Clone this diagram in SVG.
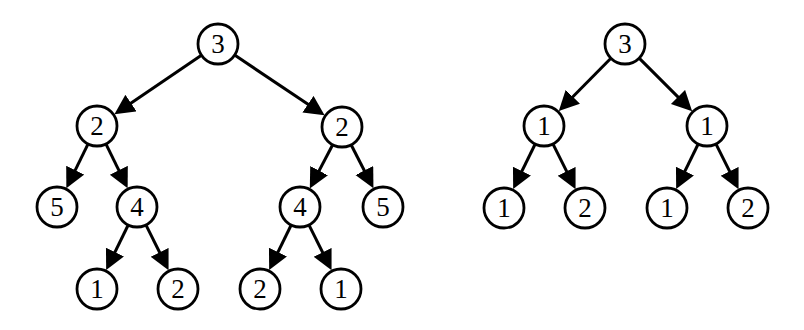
<svg xmlns="http://www.w3.org/2000/svg" width="804" height="330" viewBox="0 0 804 330">
<style>
.n circle{fill:#fff;stroke:#000;stroke-width:2.8}
.n text{font-family:"Liberation Serif","DejaVu Serif",serif;font-size:27px;text-anchor:middle;fill:#000}
#edges line{stroke:#000;stroke-width:3;marker-end:url(#ah)}
</style>
<defs>
<marker id="ah" markerUnits="userSpaceOnUse" markerWidth="22" markerHeight="22" refX="14" refY="10" orient="auto">
<path d="M0,0 L20,10 L0,20 z" fill="#000"/>
</marker>
</defs>
<rect width="804" height="330" fill="#fff"/>
<g id="edges">
<line x1="201.4" y1="55.2" x2="119.4" y2="110.9"/>
<line x1="234.6" y1="55.1" x2="319.6" y2="112.0"/>
<line x1="88.1" y1="143.9" x2="69.0" y2="182.8"/>
<line x1="105.9" y1="143.9" x2="125.0" y2="182.8"/>
<line x1="332.7" y1="144.7" x2="312.6" y2="183.1"/>
<line x1="351.1" y1="144.8" x2="370.7" y2="183.0"/>
<line x1="128.2" y1="225.0" x2="108.8" y2="264.7"/>
<line x1="145.9" y1="224.9" x2="165.9" y2="264.9"/>
<line x1="291.2" y1="225.0" x2="271.8" y2="264.7"/>
<line x1="308.9" y1="224.9" x2="328.9" y2="264.9"/>
<line x1="610.9" y1="58.2" x2="563.0" y2="106.8"/>
<line x1="639.1" y1="58.1" x2="687.9" y2="106.9"/>
<line x1="535.2" y1="144.0" x2="515.8" y2="183.7"/>
<line x1="552.9" y1="143.9" x2="572.9" y2="183.9"/>
<line x1="698.2" y1="144.0" x2="678.8" y2="183.7"/>
<line x1="715.9" y1="143.9" x2="735.9" y2="183.9"/>
</g>
<g id="L_root" class="n"><circle cx="218" cy="44" r="20"/><text x="218" y="53">3</text></g>
<g id="L_a" class="n"><circle cx="97" cy="126" r="20"/><text x="97" y="135">2</text></g>
<g id="L_b" class="n"><circle cx="342" cy="127" r="20"/><text x="342" y="136">2</text></g>
<g id="L_aa" class="n"><circle cx="57" cy="207" r="20"/><text x="57" y="216">5</text></g>
<g id="L_ab" class="n"><circle cx="137" cy="207" r="20"/><text x="137" y="216">4</text></g>
<g id="L_ba" class="n"><circle cx="300" cy="207" r="20"/><text x="300" y="216">4</text></g>
<g id="L_bb" class="n"><circle cx="383" cy="207" r="20"/><text x="383" y="216">5</text></g>
<g id="L_aba" class="n"><circle cx="97" cy="289" r="20"/><text x="97" y="298">1</text></g>
<g id="L_abb" class="n"><circle cx="178" cy="289" r="20"/><text x="178" y="298">2</text></g>
<g id="L_baa" class="n"><circle cx="260" cy="289" r="20"/><text x="260" y="298">2</text></g>
<g id="L_bab" class="n"><circle cx="341" cy="289" r="20"/><text x="341" y="298">1</text></g>
<g id="R_root" class="n"><circle cx="625" cy="44" r="20"/><text x="625" y="53">3</text></g>
<g id="R_a" class="n"><circle cx="544" cy="126" r="20"/><text x="544" y="135">1</text></g>
<g id="R_b" class="n"><circle cx="707" cy="126" r="20"/><text x="707" y="135">1</text></g>
<g id="R_aa" class="n"><circle cx="504" cy="208" r="20"/><text x="504" y="217">1</text></g>
<g id="R_ab" class="n"><circle cx="585" cy="208" r="20"/><text x="585" y="217">2</text></g>
<g id="R_ba" class="n"><circle cx="667" cy="208" r="20"/><text x="667" y="217">1</text></g>
<g id="R_bb" class="n"><circle cx="748" cy="208" r="20"/><text x="748" y="217">2</text></g>
</svg>
